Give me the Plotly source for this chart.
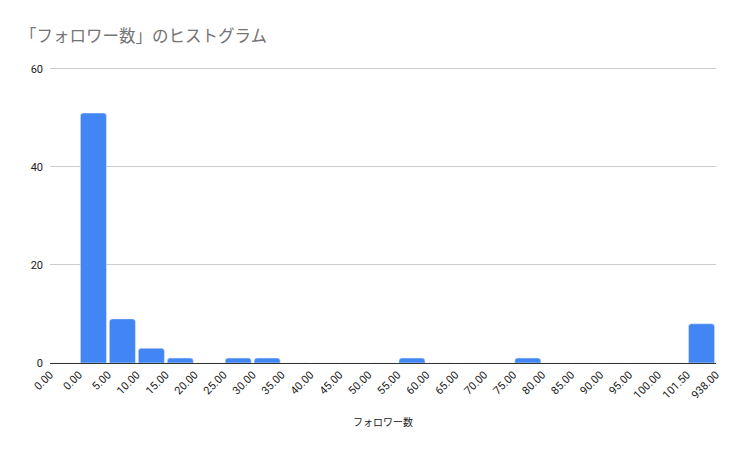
import plotly.graph_objects as go

edge_labels = ["0.00", "0.00", "5.00", "10.00", "15.00", "20.00", "25.00", "30.00", "35.00",
               "40.00", "45.00", "50.00", "55.00", "60.00", "65.00", "70.00", "75.00", "80.00",
               "85.00", "90.00", "95.00", "100.00", "101.50", "938.00"]
counts = [0, 51, 9, 3, 1, 0, 1, 1, 0, 0, 0, 0, 1, 0, 0, 0, 1, 0, 0, 0, 0, 0, 8]

centers = [i + 0.5 for i in range(len(counts))]
bin_names = [f"{edge_labels[i]} - {edge_labels[i+1]}" for i in range(len(counts))]

fig = go.Figure(go.Bar(
    x=centers, y=counts, width=0.9, marker_color="#4285F4",
    hovertext=bin_names, hoverinfo="text+y",
))

W, H = 730, 448  # page body has an 8px default margin
fig.update_layout(
    width=W, height=H,
    margin=dict(l=42, r=22, t=59, b=93, autoexpand=False),
    paper_bgcolor="white", plot_bgcolor="white",
    font=dict(family="Roboto, 'Noto Sans CJK JP', sans-serif", color="#222222", size=11),
    barcornerradius=3,
    title=dict(text="「フォロワー数」のヒストグラム", x=12/W, xref="container", xanchor="left",
               y=1-28/H, yref="container", yanchor="middle",
               font=dict(size=16.5, color="#757575")),
    showlegend=False,
)
fig.update_xaxes(
    range=[0, len(counts)], tickmode="array",
    tickvals=list(range(len(edge_labels))), ticktext=edge_labels,
    tickangle=-45, ticks="", showgrid=False, zeroline=False,
    showline=True, linecolor="#333333", linewidth=1,
    tickfont=dict(size=11, color="#222222"), automargin=False,
    title=dict(text="フォロワー数", font=dict(size=10, color="#222222"), standoff=18),
)
fig.update_yaxes(
    range=[0, 60.4], tickvals=[0, 20, 40, 60], showgrid=True, gridcolor="#CCCCCC",
    zeroline=False, ticks="", tickfont=dict(size=11, color="#222222"), ticklabelstandoff=6,
    automargin=False,
)

fig.write_html("out.html")
